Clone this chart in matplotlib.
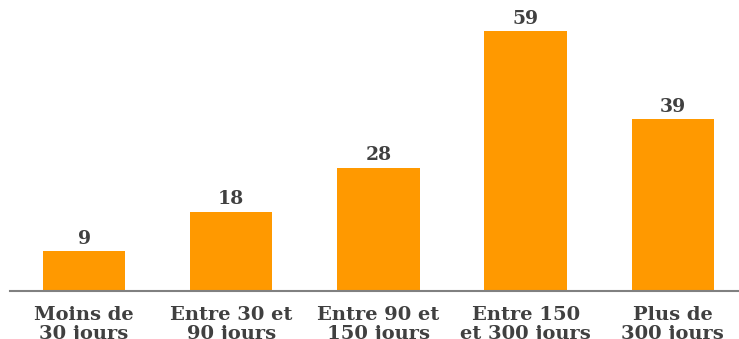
import matplotlib
matplotlib.use('Agg')
import matplotlib.pyplot as plt

categories = ['Moins de\n30 jours', 'Entre 30 et\n90 jours', 'Entre 90 et\n150 jours',
              'Entre 150\net 300 jours', 'Plus de\n300 jours']
values = [9, 18, 28, 59, 39]

plt.rcParams['font.family'] = ['DejaVu Serif']

fig = plt.figure(figsize=(7.39, 3.39), dpi=100)
ax = fig.add_axes([10/739, 48/339, 1 - 10/739, 291/339])

x = range(len(values))
bars = ax.bar(x, values, width=0.56, color='#FF9900')
for xi, v in zip(x, values):
    ax.text(xi, v + 0.8, str(v), ha='center', va='bottom', fontsize=13.5,
            color='#404040', fontweight='semibold')

ax.set_xlim(-0.503, 4.45)
ax.set_ylim(0, 66.1)
ax.set_xticks(list(x))
ax.set_xticklabels(categories, fontsize=14, color='#404040', linespacing=1.05,
                   fontweight='semibold')
ax.tick_params(axis='x', length=0, pad=11)
ax.set_yticks([])
for s in ['top', 'right', 'left']:
    ax.spines[s].set_visible(False)
ax.spines['bottom'].set_color('#808080')
ax.spines['bottom'].set_linewidth(1.5)

fig.savefig('out.png', dpi=100)
